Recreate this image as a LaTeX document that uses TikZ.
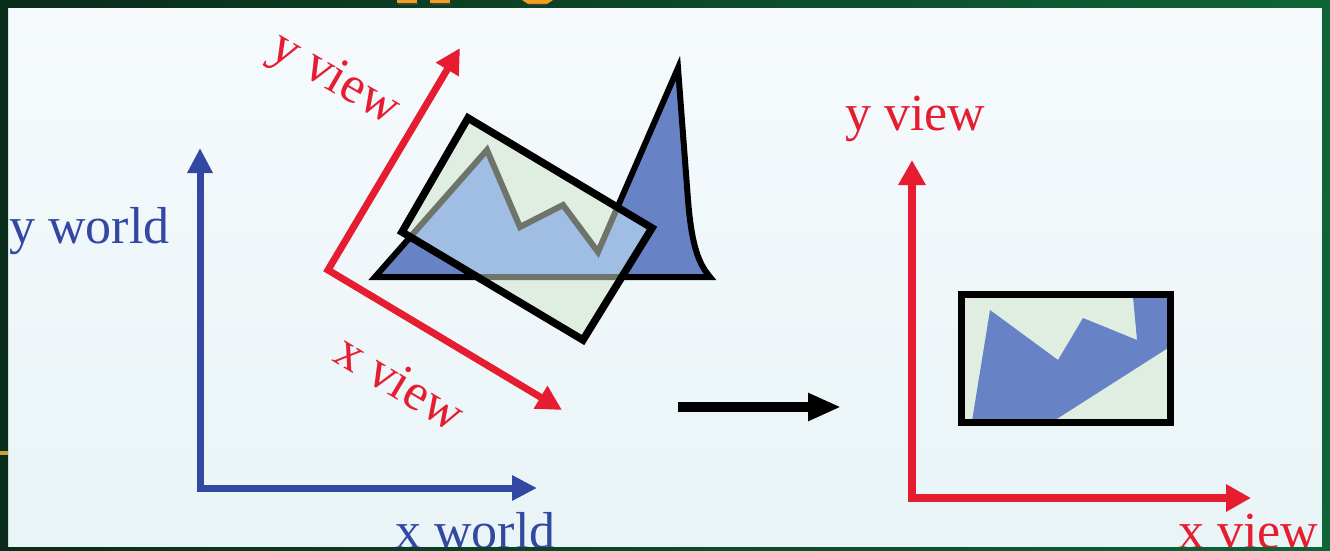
\documentclass[tikz,border=0pt]{standalone}
\usepackage{fontspec}
\setmainfont{Liberation Serif}
\usetikzlibrary{arrows.meta}
\definecolor{wblue}{RGB}{50,72,162}
\definecolor{vred}{RGB}{230,28,48}
\definecolor{polyblue}{RGB}{104,130,198}
\definecolor{polylight}{RGB}{160,190,228}
\definecolor{winfill}{RGB}{224,238,226}
\definecolor{edgegray}{RGB}{110,116,106}
\definecolor{frameL}{RGB}{10,44,26}
\definecolor{frameR}{RGB}{14,100,54}
\definecolor{paneltop}{RGB}{246,250,253}
\definecolor{panelbot}{RGB}{233,244,246}
\definecolor{titleor}{RGB}{240,160,30}
\definecolor{baror}{RGB}{205,160,50}
\def\mtnpath{(p1) -- (p2) -- (p3) -- (p4) -- (p5) -- (p6) -- (p7)
  .. controls (692,250) and (700,265) .. (p8) -- cycle}

\begin{document}
\begin{tikzpicture}[x=1pt,y=-1pt,
  lbl/.style={font=\fontsize{52}{60}\selectfont,inner sep=0pt},
  axworld/.style={draw=wblue,line width=7pt,{Triangle[length=25pt,width=24pt]}-{Triangle[length=25pt,width=24pt]}},
  axview/.style={draw=vred,line width=7pt,{Triangle[length=25pt,width=25pt]}-{Triangle[length=25pt,width=25pt]}},
  axclip/.style={draw=vred,line width=8pt,{Triangle[length=25pt,width=26pt]}-{Triangle[length=25pt,width=26pt]}}]
\useasboundingbox (0,0) rectangle (1330,551);
\shade[top color=paneltop,bottom color=panelbot] (0,0) rectangle (1330,551);

\coordinate (wo) at (200,488); \coordinate (wy) at (200,148); \coordinate (wx) at (537,488);
\draw[axworld] (wy) -- (wo) -- (wx);
\node[lbl,text=wblue,anchor=base west] (ywl) at (9,243) {y world};
\node[lbl,text=wblue,anchor=base west] (xwl) at (395,548) {x world};

\coordinate (p1) at (375,277); \coordinate (p2) at (487,150); \coordinate (p3) at (520,227);
\coordinate (p4) at (563,205); \coordinate (p5) at (598,252); \coordinate (p6) at (678,68);
\coordinate (p7) at (688,200); \coordinate (p8) at (710,277);
\filldraw[fill=polyblue,draw=black,line width=6pt] \mtnpath;

\coordinate (r1) at (402,232); \coordinate (r2) at (468,118); \coordinate (r3) at (652,228); \coordinate (r4) at (583,340);
\begin{scope}
\clip (r1) -- (r2) -- (r3) -- (r4) -- cycle;
\fill[winfill] (r1) -- (r2) -- (r3) -- (r4) -- cycle;
\filldraw[fill=polylight,draw=edgegray,line width=6pt] \mtnpath;
\end{scope}
\draw[line width=7.5pt] (r1) -- (r2) -- (r3) -- (r4) -- cycle;

\coordinate (vo) at (328,270); \coordinate (vy) at (460,48); \coordinate (vx) at (562,410);
\draw[axview] (vy) -- (vo) -- (vx);
\node[lbl,text=vred,rotate=-30] (yvl) at (334,80) {y view};
\node[lbl,text=vred,rotate=-31] (xvl) at (400,382) {x view};

\coordinate (ms) at (678,407); \coordinate (me) at (841,407);
\draw[line width=10pt,-{Triangle[length=33pt,width=26pt]}] (ms) -- (me);

\coordinate (co) at (912,498); \coordinate (cy) at (912,160); \coordinate (cx) at (1251,498);
\draw[axclip] (cy) -- (co) -- (cx);
\node[lbl,text=vred,anchor=base west] (yvr) at (845,130) {y view};
\node[lbl,text=vred,anchor=base west] (xvr) at (1178,548) {x view};

\coordinate (c1) at (961,294); \coordinate (c2) at (1170,422);
\fill[winfill] (c1) rectangle (c2);
\begin{scope}
\clip (c1) rectangle (c2);
\fill[polyblue] (972,421) -- (990,310) -- (1058,360) -- (1083,318) -- (1137,340) -- (1133,297)
  -- (1167,298) -- (1168,348) -- (1052,422) -- cycle;
\end{scope}
\draw[line width=7pt] (c1) rectangle (c2);

\shade[left color=frameL,right color=frameR,even odd rule] (0,0) rectangle (1330,551) (8,8) rectangle (1322,547);
\fill[titleor] (397,0) rectangle (417,3.5); \fill[titleor] (430,0) rectangle (450,3.5);
\fill[titleor] (522,0) -- (553,0) -- (547,4) -- (528,4) -- cycle;
\fill[black!75] (398,3.5) rectangle (418,5); \fill[black!75] (431,3.5) rectangle (451,5);
\fill[black!75] (528,4) -- (547,4) -- (545,5.5) -- (530,5.5) -- cycle;
\fill[baror] (0,451) rectangle (8,455);
\end{tikzpicture}
\end{document}
